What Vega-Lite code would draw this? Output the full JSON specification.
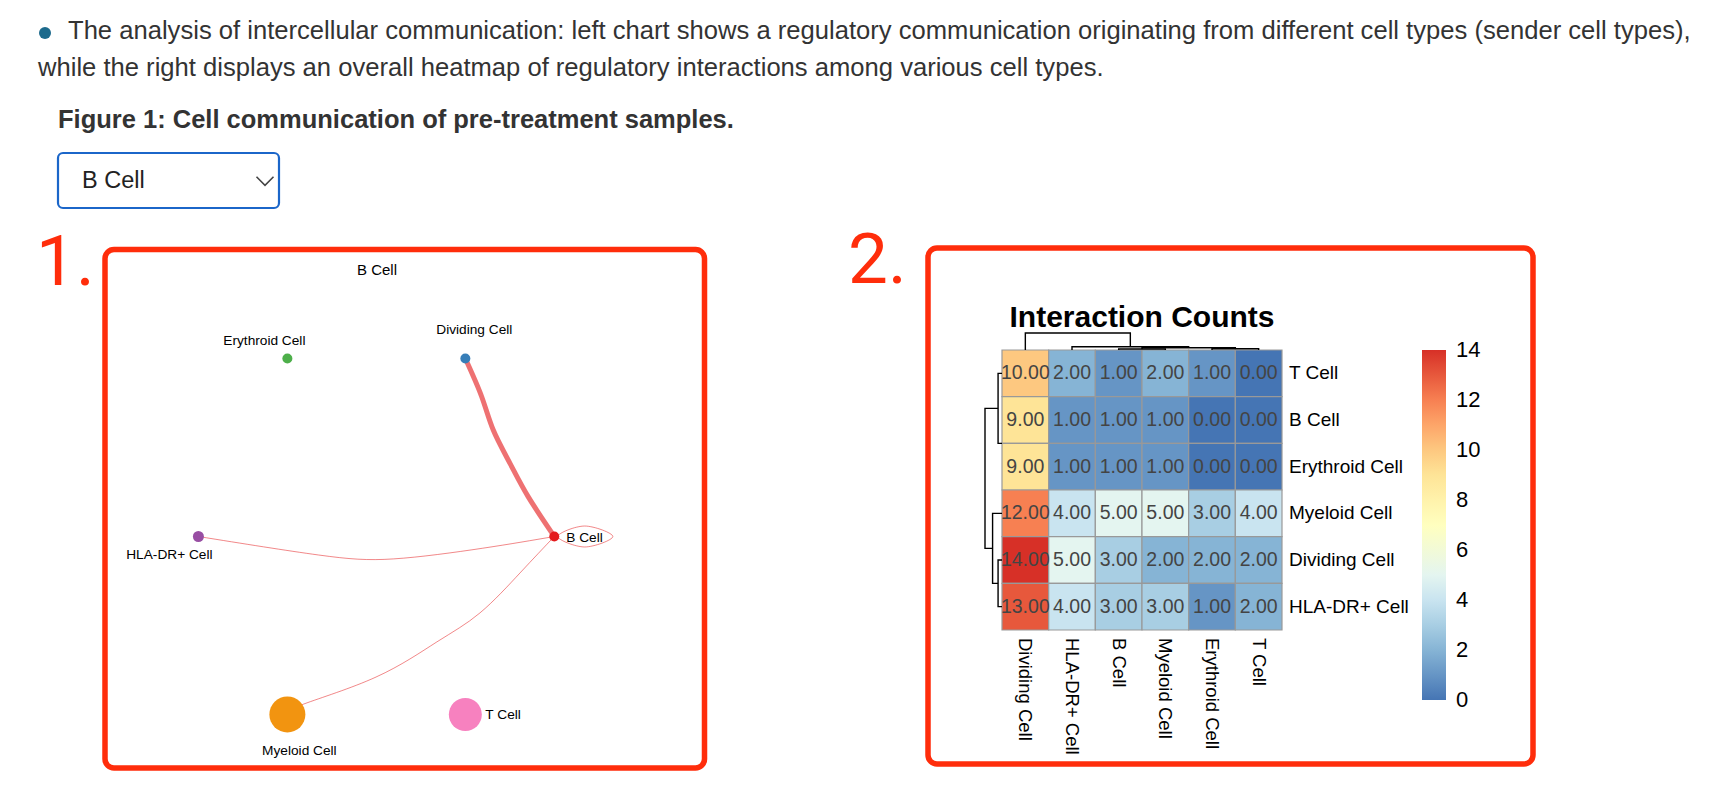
{
"$schema": "https://vega.github.io/schema/vega-lite/v6.json",
"width": 1728,
"height": 806,
"autosize": {"type": "none"},
"padding": 0,
"background": "#ffffff",
"config": {"view": {"stroke": null}, "legend": {"gradientVerticalMaxLength": 400, "labelFontSize": 22, "labelFont": "Liberation Sans"}},
"datasets": {
"blank": [{}],
"heat": [
{"row":"T Cell","col":"Dividing Cell","n":10},{"row":"T Cell","col":"HLA-DR+ Cell","n":2},{"row":"T Cell","col":"B Cell","n":1},{"row":"T Cell","col":"Myeloid Cell","n":2},{"row":"T Cell","col":"Erythroid Cell","n":1},{"row":"T Cell","col":"T Cell","n":0},
{"row":"B Cell","col":"Dividing Cell","n":9},{"row":"B Cell","col":"HLA-DR+ Cell","n":1},{"row":"B Cell","col":"B Cell","n":1},{"row":"B Cell","col":"Myeloid Cell","n":1},{"row":"B Cell","col":"Erythroid Cell","n":0},{"row":"B Cell","col":"T Cell","n":0},
{"row":"Erythroid Cell","col":"Dividing Cell","n":9},{"row":"Erythroid Cell","col":"HLA-DR+ Cell","n":1},{"row":"Erythroid Cell","col":"B Cell","n":1},{"row":"Erythroid Cell","col":"Myeloid Cell","n":1},{"row":"Erythroid Cell","col":"Erythroid Cell","n":0},{"row":"Erythroid Cell","col":"T Cell","n":0},
{"row":"Myeloid Cell","col":"Dividing Cell","n":12},{"row":"Myeloid Cell","col":"HLA-DR+ Cell","n":4},{"row":"Myeloid Cell","col":"B Cell","n":5},{"row":"Myeloid Cell","col":"Myeloid Cell","n":5},{"row":"Myeloid Cell","col":"Erythroid Cell","n":3},{"row":"Myeloid Cell","col":"T Cell","n":4},
{"row":"Dividing Cell","col":"Dividing Cell","n":14},{"row":"Dividing Cell","col":"HLA-DR+ Cell","n":5},{"row":"Dividing Cell","col":"B Cell","n":3},{"row":"Dividing Cell","col":"Myeloid Cell","n":2},{"row":"Dividing Cell","col":"Erythroid Cell","n":2},{"row":"Dividing Cell","col":"T Cell","n":2},
{"row":"HLA-DR+ Cell","col":"Dividing Cell","n":13},{"row":"HLA-DR+ Cell","col":"HLA-DR+ Cell","n":4},{"row":"HLA-DR+ Cell","col":"B Cell","n":3},{"row":"HLA-DR+ Cell","col":"Myeloid Cell","n":3},{"row":"HLA-DR+ Cell","col":"Erythroid Cell","n":1},{"row":"HLA-DR+ Cell","col":"T Cell","n":2}
],
"nodes": [
{"name":"B Cell","x":1,"y":0,"vsize":5},
{"name":"Dividing Cell","x":0.5,"y":0.866,"vsize":5},
{"name":"Erythroid Cell","x":-0.5,"y":0.866,"vsize":5},
{"name":"HLA-DR+ Cell","x":-1,"y":0,"vsize":5.5},
{"name":"Myeloid Cell","x":-0.5,"y":-0.866,"vsize":18},
{"name":"T Cell","x":0.5,"y":-0.866,"vsize":16.5}
],
"edges": [
{"edge":"Dividing Cell-B Cell","pt":0,"x":0.5,"y":0.866,"n":9},
{"edge":"Dividing Cell-B Cell","pt":1,"x":0.592,"y":0.680,"n":9},
{"edge":"Dividing Cell-B Cell","pt":2,"x":0.657,"y":0.518,"n":9},
{"edge":"Dividing Cell-B Cell","pt":3,"x":0.751,"y":0.356,"n":9},
{"edge":"Dividing Cell-B Cell","pt":4,"x":0.853,"y":0.194,"n":9},
{"edge":"Dividing Cell-B Cell","pt":5,"x":1,"y":0,"n":9},
{"edge":"HLA-DR+ Cell-B Cell","pt":0,"x":-1,"y":0,"n":1},
{"edge":"HLA-DR+ Cell-B Cell","pt":1,"x":-0.325,"y":-0.090,"n":1},
{"edge":"HLA-DR+ Cell-B Cell","pt":2,"x":0.097,"y":-0.109,"n":1},
{"edge":"HLA-DR+ Cell-B Cell","pt":3,"x":0.598,"y":-0.057,"n":1},
{"edge":"HLA-DR+ Cell-B Cell","pt":4,"x":1,"y":0,"n":1},
{"edge":"Myeloid Cell-B Cell","pt":0,"x":-0.5,"y":-0.866,"n":1},
{"edge":"Myeloid Cell-B Cell","pt":1,"x":-0.407,"y":-0.815,"n":1},
{"edge":"Myeloid Cell-B Cell","pt":2,"x":-0.002,"y":-0.684,"n":1},
{"edge":"Myeloid Cell-B Cell","pt":3,"x":0.340,"y":-0.513,"n":1},
{"edge":"Myeloid Cell-B Cell","pt":4,"x":0.582,"y":-0.372,"n":1},
{"edge":"Myeloid Cell-B Cell","pt":5,"x":0.812,"y":-0.173,"n":1},
{"edge":"Myeloid Cell-B Cell","pt":6,"x":1,"y":0,"n":1}
],
"loop": [
{"pt":0,"x":1.020,"y":0},
{"pt":1,"x":1.171,"y":0.051},
{"pt":2,"x":1.329,"y":0},
{"pt":3,"x":1.171,"y":-0.051}
],
"coltree": [
{"m":"c1","pt":0,"pos":2.5,"h":0},{"m":"c1","pt":1,"pos":2.5,"h":1.414},{"m":"c1","pt":2,"pos":3.5,"h":1.414},{"m":"c1","pt":3,"pos":3.5,"h":0},
{"m":"c2","pt":0,"pos":4.5,"h":0},{"m":"c2","pt":1,"pos":4.5,"h":1.732},{"m":"c2","pt":2,"pos":5.5,"h":1.732},{"m":"c2","pt":3,"pos":5.5,"h":0},
{"m":"c3","pt":0,"pos":3.0,"h":1.414},{"m":"c3","pt":1,"pos":3.0,"h":3.317},{"m":"c3","pt":2,"pos":5.0,"h":3.317},{"m":"c3","pt":3,"pos":5.0,"h":1.732},
{"m":"c4","pt":0,"pos":1.5,"h":0},{"m":"c4","pt":1,"pos":1.5,"h":4.69},{"m":"c4","pt":2,"pos":4.0,"h":4.69},{"m":"c4","pt":3,"pos":4.0,"h":3.317},
{"m":"c5","pt":0,"pos":0.5,"h":0},{"m":"c5","pt":1,"pos":0.5,"h":24.33},{"m":"c5","pt":2,"pos":2.75,"h":24.33},{"m":"c5","pt":3,"pos":2.75,"h":4.69}
],
"rowtree": [
{"m":"r2","pt":0,"pos":0.5,"h":0},{"m":"r2","pt":1,"pos":0.5,"h":2},{"m":"r2","pt":2,"pos":2.0,"h":2},{"m":"r2","pt":3,"pos":2.0,"h":0},
{"m":"r3","pt":0,"pos":4.5,"h":0},{"m":"r3","pt":1,"pos":4.5,"h":2},{"m":"r3","pt":2,"pos":5.5,"h":2},{"m":"r3","pt":3,"pos":5.5,"h":0},
{"m":"r4","pt":0,"pos":3.5,"h":0},{"m":"r4","pt":1,"pos":3.5,"h":4.796},{"m":"r4","pt":2,"pos":5.0,"h":4.796},{"m":"r4","pt":3,"pos":5.0,"h":2},
{"m":"r5","pt":0,"pos":1.25,"h":2},{"m":"r5","pt":1,"pos":1.25,"h":8.66},{"m":"r5","pt":2,"pos":4.25,"h":8.66},{"m":"r5","pt":3,"pos":4.25,"h":4.796}
]
},
"resolve": {"scale": {"x": "independent", "y": "independent", "color": "independent", "size": "independent"}},
"layer": [
{"data": {"name": "blank"}, "mark": {"type": "point", "filled": true, "color": "#1c6a8c", "size": 144, "opacity": 1}, "encoding": {"x": {"value": 45}, "y": {"value": 33}}},
{"data": {"name": "blank"}, "mark": {"type": "text", "align": "left", "baseline": "middle", "font": "Liberation Sans", "fontSize": 25.6, "color": "#333333"}, "encoding": {"x": {"value": 68}, "y": {"value": 31}, "text": {"value": "The analysis of intercellular communication: left chart shows a regulatory communication originating from different cell types (sender cell types),"}}},
{"data": {"name": "blank"}, "mark": {"type": "text", "align": "left", "baseline": "middle", "font": "Liberation Sans", "fontSize": 25.6, "color": "#333333"}, "encoding": {"x": {"value": 38}, "y": {"value": 68}, "text": {"value": "while the right displays an overall heatmap of regulatory interactions among various cell types."}}},
{"data": {"name": "blank"}, "mark": {"type": "text", "align": "left", "baseline": "middle", "font": "Liberation Sans", "fontSize": 25.5, "fontWeight": "bold", "color": "#333333"}, "encoding": {"x": {"value": 58}, "y": {"value": 120}, "text": {"value": "Figure 1: Cell communication of pre-treatment samples."}}},
{"data": {"name": "blank"}, "mark": {"type": "rect", "fill": "#ffffff", "stroke": "#1b66c9", "strokeWidth": 2.2, "cornerRadius": 5}, "encoding": {"x": {"value": 58}, "x2": {"value": 279}, "y": {"value": 153}, "y2": {"value": 208}}},
{"data": {"name": "blank"}, "mark": {"type": "text", "align": "left", "baseline": "middle", "font": "Liberation Sans", "fontSize": 23.5, "color": "#222222"}, "encoding": {"x": {"value": 82}, "y": {"value": 181}, "text": {"value": "B Cell"}}},
{"data": {"name": "blank"}, "mark": {"type": "point", "shape": "M-1,-0.5L0,0.5L1,-0.5", "filled": false, "color": "#444444", "strokeWidth": 1.6, "size": 289, "opacity": 1}, "encoding": {"x": {"value": 265}, "y": {"value": 181}}},
{"data": {"name": "blank"}, "mark": {"type": "rect", "fillOpacity": 0, "fill": "#ffffff", "stroke": "#ff2d0b", "strokeWidth": 5.5, "cornerRadius": 9}, "encoding": {"x": {"value": 105}, "x2": {"value": 704.5}, "y": {"value": 249.5}, "y2": {"value": 768}}},
{"data": {"name": "blank"}, "mark": {"type": "rect", "fillOpacity": 0, "fill": "#ffffff", "stroke": "#ff2d0b", "strokeWidth": 5.5, "cornerRadius": 9}, "encoding": {"x": {"value": 928}, "x2": {"value": 1533}, "y": {"value": 248}, "y2": {"value": 764}}},
{"data": {"name": "blank"}, "mark": {"type": "text", "align": "left", "baseline": "alphabetic", "font": "Roboto", "fontWeight": 400, "fontSize": 71, "color": "#ff2d0b"}, "encoding": {"x": {"value": 36}, "y": {"value": 285}, "text": {"value": "1."}}},
{"data": {"name": "blank"}, "mark": {"type": "text", "align": "left", "baseline": "alphabetic", "font": "Roboto", "fontWeight": 400, "fontSize": 71, "color": "#ff2d0b"}, "encoding": {"x": {"value": 848}, "y": {"value": 283}, "text": {"value": "2."}}},
{"data": {"name": "blank"}, "mark": {"type": "text", "align": "center", "baseline": "middle", "font": "Liberation Sans", "fontSize": 15, "color": "#000000"}, "encoding": {"x": {"value": 377}, "y": {"value": 270}, "text": {"value": "B Cell"}}},
{"data": {"name": "blank"}, "mark": {"type": "text", "align": "center", "baseline": "alphabetic", "font": "Liberation Sans", "fontSize": 30, "fontWeight": "bold", "color": "#000000"}, "encoding": {"x": {"value": 1142}, "y": {"value": 327}, "text": {"value": "Interaction Counts"}}},
{
"resolve": {"scale": {"size": "independent"}},
"layer": [
{"data": {"name": "edges"}, "mark": {"type": "line", "interpolate": "natural", "color": "#e41a1c", "opacity": 0.62},
 "encoding": {
  "x": {"field": "x", "type": "quantitative", "scale": {"domain": [-1, 1], "range": [198.4, 554.3], "zero": false, "nice": false}, "axis": null},
  "y": {"field": "y", "type": "quantitative", "scale": {"domain": [-1, 1], "range": [742, 331], "zero": false, "nice": false}, "axis": null},
  "detail": {"field": "edge"},
  "order": {"field": "pt", "type": "quantitative"},
  "size": {"field": "n", "type": "quantitative", "scale": {"domain": [1, 9], "range": [0.85, 5]}, "legend": null}}},
{"data": {"name": "loop"}, "mark": {"type": "line", "interpolate": "cardinal-closed", "color": "#e41a1c", "opacity": 0.62, "strokeWidth": 0.85},
 "encoding": {
  "x": {"field": "x", "type": "quantitative", "scale": {"domain": [-1, 1], "range": [198.4, 554.3], "zero": false, "nice": false}, "axis": null},
  "y": {"field": "y", "type": "quantitative", "scale": {"domain": [-1, 1], "range": [742, 331], "zero": false, "nice": false}, "axis": null},
  "order": {"field": "pt", "type": "quantitative"}}},
{"data": {"name": "nodes"}, "mark": {"type": "point", "filled": true, "opacity": 1},
 "encoding": {
  "x": {"field": "x", "type": "quantitative", "scale": {"domain": [-1, 1], "range": [198.4, 554.3], "zero": false, "nice": false}, "axis": null},
  "y": {"field": "y", "type": "quantitative", "scale": {"domain": [-1, 1], "range": [742, 331], "zero": false, "nice": false}, "axis": null},
  "color": {"field": "name", "type": "nominal", "scale": {"domain": ["B Cell", "Dividing Cell", "Erythroid Cell", "HLA-DR+ Cell", "Myeloid Cell", "T Cell"], "range": ["#e41a1c", "#377eb8", "#4daf4a", "#984ea3", "#f29410", "#f781bf"]}, "legend": null},
  "size": {"field": "vsize", "type": "quantitative", "scale": {"type": "pow", "exponent": 2, "domain": [0, 18], "range": [0, 1296]}, "legend": null}}},
{"data": {"name": "nodes"}, "transform": [{"filter": "datum.name === 'Erythroid Cell'"}], "mark": {"type": "text", "font": "Liberation Sans", "fontSize": 13.7, "color": "#000000", "align": "center", "baseline": "middle", "dx": -23, "dy": -18},
 "encoding": {"x": {"field": "x", "type": "quantitative", "scale": {"domain": [-1, 1], "range": [198.4, 554.3], "zero": false, "nice": false}, "axis": null}, "y": {"field": "y", "type": "quantitative", "scale": {"domain": [-1, 1], "range": [742, 331], "zero": false, "nice": false}, "axis": null}, "text": {"field": "name"}}},
{"data": {"name": "nodes"}, "transform": [{"filter": "datum.name === 'Dividing Cell'"}], "mark": {"type": "text", "font": "Liberation Sans", "fontSize": 13.7, "color": "#000000", "align": "center", "baseline": "middle", "dx": 9, "dy": -29},
 "encoding": {"x": {"field": "x", "type": "quantitative", "scale": {"domain": [-1, 1], "range": [198.4, 554.3], "zero": false, "nice": false}, "axis": null}, "y": {"field": "y", "type": "quantitative", "scale": {"domain": [-1, 1], "range": [742, 331], "zero": false, "nice": false}, "axis": null}, "text": {"field": "name"}}},
{"data": {"name": "nodes"}, "transform": [{"filter": "datum.name === 'HLA-DR+ Cell'"}], "mark": {"type": "text", "font": "Liberation Sans", "fontSize": 13.7, "color": "#000000", "align": "center", "baseline": "middle", "dx": -29, "dy": 18},
 "encoding": {"x": {"field": "x", "type": "quantitative", "scale": {"domain": [-1, 1], "range": [198.4, 554.3], "zero": false, "nice": false}, "axis": null}, "y": {"field": "y", "type": "quantitative", "scale": {"domain": [-1, 1], "range": [742, 331], "zero": false, "nice": false}, "axis": null}, "text": {"field": "name"}}},
{"data": {"name": "nodes"}, "transform": [{"filter": "datum.name === 'Myeloid Cell'"}], "mark": {"type": "text", "font": "Liberation Sans", "fontSize": 13.7, "color": "#000000", "align": "center", "baseline": "middle", "dx": 12, "dy": 37},
 "encoding": {"x": {"field": "x", "type": "quantitative", "scale": {"domain": [-1, 1], "range": [198.4, 554.3], "zero": false, "nice": false}, "axis": null}, "y": {"field": "y", "type": "quantitative", "scale": {"domain": [-1, 1], "range": [742, 331], "zero": false, "nice": false}, "axis": null}, "text": {"field": "name"}}},
{"data": {"name": "nodes"}, "transform": [{"filter": "datum.name === 'T Cell'"}], "mark": {"type": "text", "font": "Liberation Sans", "fontSize": 13.7, "color": "#000000", "align": "left", "baseline": "middle", "dx": 20, "dy": 1},
 "encoding": {"x": {"field": "x", "type": "quantitative", "scale": {"domain": [-1, 1], "range": [198.4, 554.3], "zero": false, "nice": false}, "axis": null}, "y": {"field": "y", "type": "quantitative", "scale": {"domain": [-1, 1], "range": [742, 331], "zero": false, "nice": false}, "axis": null}, "text": {"field": "name"}}},
{"data": {"name": "nodes"}, "transform": [{"filter": "datum.name === 'B Cell'"}], "mark": {"type": "text", "font": "Liberation Sans", "fontSize": 13.7, "color": "#000000", "align": "left", "baseline": "middle", "dx": 12, "dy": 1},
 "encoding": {"x": {"field": "x", "type": "quantitative", "scale": {"domain": [-1, 1], "range": [198.4, 554.3], "zero": false, "nice": false}, "axis": null}, "y": {"field": "y", "type": "quantitative", "scale": {"domain": [-1, 1], "range": [742, 331], "zero": false, "nice": false}, "axis": null}, "text": {"field": "name"}}}
]
},
{
"data": {"name": "heat"},
"layer": [
{"mark": {"type": "rect", "stroke": "#999999", "strokeWidth": 1.2},
 "encoding": {
  "x": {"field": "col", "type": "nominal", "sort": ["Dividing Cell", "HLA-DR+ Cell", "B Cell", "Myeloid Cell", "Erythroid Cell", "T Cell"], "scale": {"range": [1002, 1282], "paddingInner": 0, "paddingOuter": 0}, "axis": null},
  "y": {"field": "row", "type": "nominal", "sort": ["T Cell", "B Cell", "Erythroid Cell", "Myeloid Cell", "Dividing Cell", "HLA-DR+ Cell"], "scale": {"range": [350, 630], "paddingInner": 0, "paddingOuter": 0}, "axis": null},
  "color": {"field": "n", "type": "quantitative",
   "scale": {"domain": [0, 2.3333, 4.6667, 7, 9.3333, 11.6667, 14], "range": ["#4575b4", "#91bfdb", "#e0f3f8", "#ffffbf", "#fee090", "#fc8d59", "#d73027"], "interpolate": "rgb"},
   "legend": {"title": null, "orient": "none", "legendX": 1422, "legendY": 350, "direction": "vertical", "gradientLength": 350, "gradientThickness": 24, "gradientStrokeWidth": 0, "labelFontSize": 22, "labelFont": "Liberation Sans", "labelColor": "#000000", "labelOffset": 10, "values": [0, 2, 4, 6, 8, 10, 12, 14], "padding": 0, "labelOverlap": false, "labelBaseline": "middle",
    "encode": {"labels": {"update": {"baseline": {"value": "middle"}, "fontSize": {"value": 22}, "font": {"value": "Liberation Sans"}, "fill": {"value": "#000000"}}}}}}}},
{"mark": {"type": "text", "font": "Liberation Sans", "fontSize": 19.5, "color": "#444444", "align": "center", "baseline": "middle"},
 "encoding": {
  "x": {"field": "col", "type": "nominal", "sort": ["Dividing Cell", "HLA-DR+ Cell", "B Cell", "Myeloid Cell", "Erythroid Cell", "T Cell"], "scale": {"range": [1002, 1282], "paddingInner": 0, "paddingOuter": 0}, "axis": null},
  "y": {"field": "row", "type": "nominal", "sort": ["T Cell", "B Cell", "Erythroid Cell", "Myeloid Cell", "Dividing Cell", "HLA-DR+ Cell"], "scale": {"range": [350, 630], "paddingInner": 0, "paddingOuter": 0}, "axis": null},
  "text": {"field": "n", "type": "quantitative", "format": ".2f"}}},
{"transform": [{"filter": "datum.col === 'Dividing Cell'"}], "mark": {"type": "text", "font": "Liberation Sans", "fontSize": 19, "color": "#000000", "align": "left", "baseline": "middle"},
 "encoding": {
  "x": {"value": 1289},
  "y": {"field": "row", "type": "nominal", "sort": ["T Cell", "B Cell", "Erythroid Cell", "Myeloid Cell", "Dividing Cell", "HLA-DR+ Cell"], "scale": {"range": [350, 630], "paddingInner": 0, "paddingOuter": 0}, "axis": null},
  "text": {"field": "row"}}},
{"transform": [{"filter": "datum.row === 'T Cell'"}], "mark": {"type": "text", "font": "Liberation Sans", "fontSize": 18.5, "color": "#000000", "align": "left", "baseline": "middle", "angle": 90},
 "encoding": {
  "x": {"field": "col", "type": "nominal", "sort": ["Dividing Cell", "HLA-DR+ Cell", "B Cell", "Myeloid Cell", "Erythroid Cell", "T Cell"], "scale": {"range": [1002, 1282], "paddingInner": 0, "paddingOuter": 0}, "axis": null},
  "y": {"value": 638},
  "text": {"field": "col"}}}
]
},
{"data": {"name": "coltree"}, "mark": {"type": "line", "color": "#000000", "strokeWidth": 1.4},
 "encoding": {
  "x": {"field": "pos", "type": "quantitative", "scale": {"domain": [0, 6], "range": [1002, 1282], "zero": false, "nice": false}, "axis": null},
  "y": {"field": "h", "type": "quantitative", "scale": {"domain": [0, 24.33], "range": [350, 333], "zero": false, "nice": false}, "axis": null},
  "detail": {"field": "m"},
  "order": {"field": "pt", "type": "quantitative"}}},
{"data": {"name": "rowtree"}, "mark": {"type": "line", "color": "#000000", "strokeWidth": 1.4},
 "encoding": {
  "x": {"field": "h", "type": "quantitative", "scale": {"domain": [0, 8.66], "range": [1002, 985], "zero": false, "nice": false}, "axis": null},
  "y": {"field": "pos", "type": "quantitative", "scale": {"domain": [0, 6], "range": [350, 630], "zero": false, "nice": false}, "axis": null},
  "detail": {"field": "m"},
  "order": {"field": "pt", "type": "quantitative"}}}
]
}
